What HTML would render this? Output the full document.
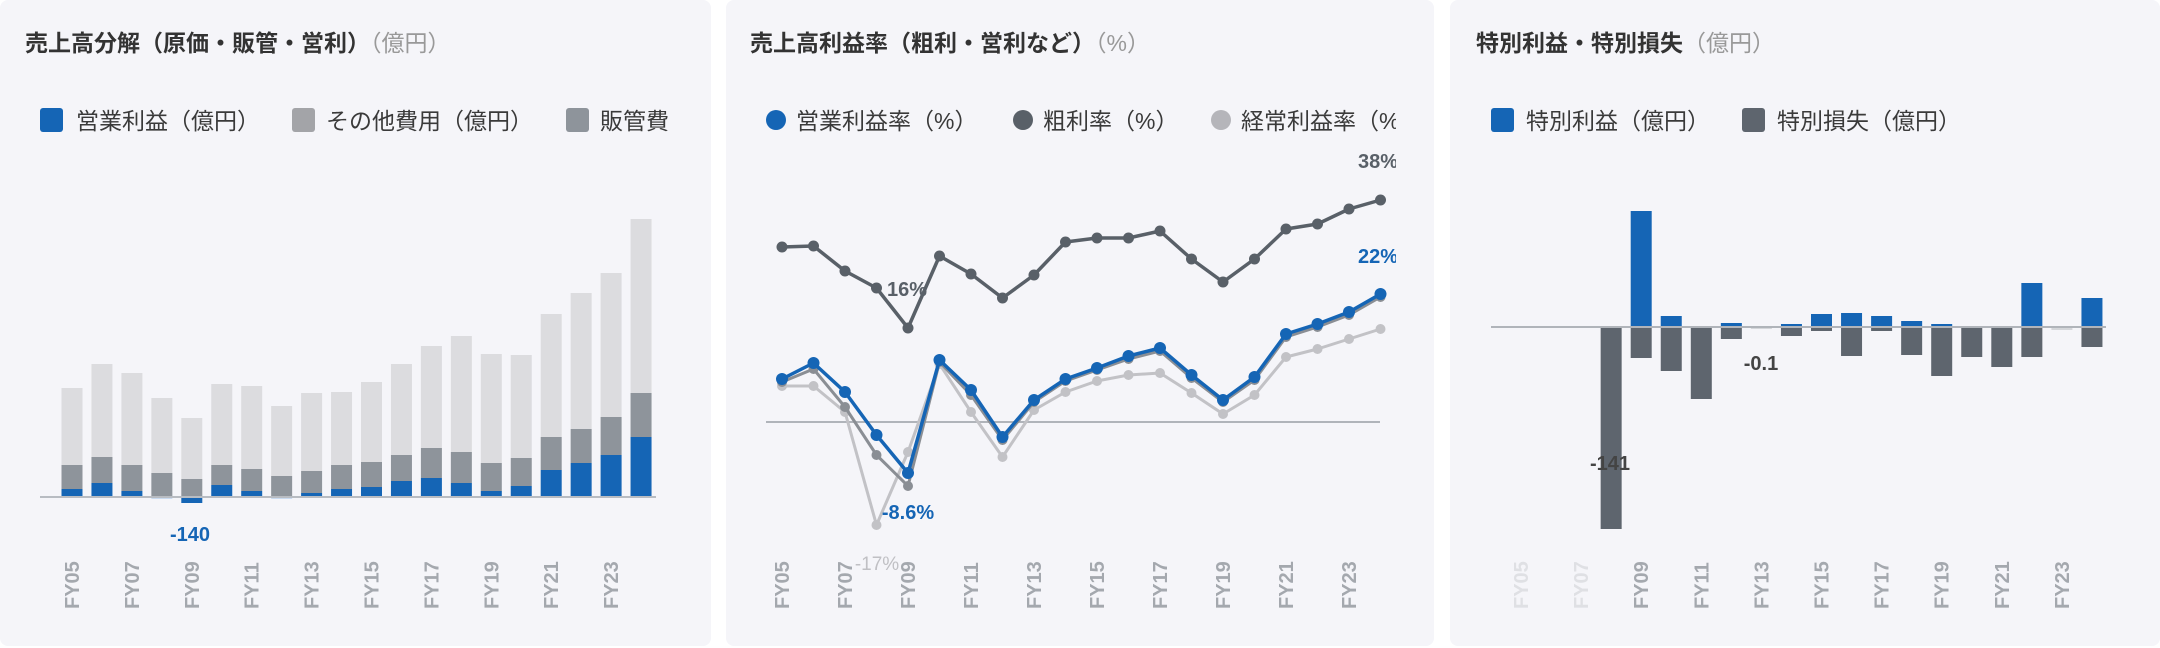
<!DOCTYPE html>
<html><head><meta charset="utf-8"><style>
html,body{margin:0;padding:0;background:#fff;}
svg{display:block;font-family:"Liberation Sans","Noto Sans CJK JP",sans-serif;}
</style></head><body>
<svg width="2160" height="648" viewBox="0 0 2160 648" xmlns="http://www.w3.org/2000/svg">
<defs><clipPath id="c2"><rect x="726" y="0" width="670" height="648"/></clipPath></defs>
<rect x="0" y="0" width="711" height="646" rx="8" fill="#f5f5f9"/>
<rect x="726" y="0" width="708" height="646" rx="8" fill="#f5f5f9"/>
<rect x="1450" y="0" width="710" height="646" rx="8" fill="#f5f5f9"/>

<!-- Panel 1 -->
<text x="25" y="51" font-size="23" font-weight="bold" fill="#333">売上高分解（原価・販管・営利）<tspan font-weight="normal" fill="#999">（億円）</tspan></text>
<g font-size="23" fill="#3a3a3a">
<rect x="40" y="108" width="23" height="24" rx="3" fill="#1565b5"/><text x="76" y="129">営業利益（億円）</text>
<rect x="292" y="108" width="23" height="24" rx="3" fill="#a3a4a8"/><text x="326" y="129">その他費用（億円）</text>
<rect x="566" y="108" width="23" height="24" rx="3" fill="#8e949b"/><text x="600" y="129">販管費</text>
</g>
<g id="b1"></g>
<line x1="40" y1="497" x2="656" y2="497" stroke="#b8bcc2" stroke-width="2"/>
<text x="190" y="541" font-size="20" font-weight="bold" fill="#1565b5" text-anchor="middle">-140</text>

<!-- Panel 2 -->
<text x="750" y="51" font-size="23" font-weight="bold" fill="#333">売上高利益率（粗利・営利など）<tspan font-weight="normal" fill="#999">（%）</tspan></text>
<g clip-path="url(#c2)">
<g font-size="23" fill="#3a3a3a">
<circle cx="776" cy="120" r="10" fill="#1565b5"/><text x="796" y="129">営業利益率（%）</text>
<circle cx="1023" cy="120" r="10" fill="#596068"/><text x="1043" y="129">粗利率（%）</text>
<circle cx="1221" cy="120" r="10" fill="#b5b5ba"/><text x="1241" y="129">経常利益率（%）</text>
</g>
<line x1="766" y1="422" x2="1380" y2="422" stroke="#b0b4ba" stroke-width="2"/>
<g id="l2"></g>
<text x="1378" y="168" font-size="20" font-weight="bold" fill="#596068" text-anchor="middle">38%</text>
<text x="1378" y="263" font-size="20" font-weight="bold" fill="#1565b5" text-anchor="middle">22%</text>
</g>
<text x="907" y="296" font-size="20" font-weight="bold" fill="#596068" text-anchor="middle">16%</text>
<text x="908" y="519" font-size="20" font-weight="bold" fill="#1565b5" text-anchor="middle">-8.6%</text>
<text x="877" y="570" font-size="19" fill="#c0c0c4" text-anchor="middle">-17%</text>

<!-- Panel 3 -->
<text x="1476" y="51" font-size="23" font-weight="bold" fill="#333">特別利益・特別損失<tspan font-weight="normal" fill="#999">（億円）</tspan></text>
<g font-size="23" fill="#3a3a3a">
<rect x="1491" y="108" width="23" height="24" rx="3" fill="#1565b5"/><text x="1526" y="129">特別利益（億円）</text>
<rect x="1742" y="108" width="23" height="24" rx="3" fill="#5e656e"/><text x="1777" y="129">特別損失（億円）</text>
</g>
<g id="b3"></g>
<line x1="1491" y1="327" x2="2106" y2="327" stroke="#b0b4ba" stroke-width="2"/>
<text x="1610" y="470" font-size="20" font-weight="bold" fill="#444" text-anchor="middle">-141</text>
<text x="1761" y="370" font-size="20" font-weight="bold" fill="#444" text-anchor="middle">-0.1</text>

<g id="ticks"></g>
</svg>
<script>
const NS="http://www.w3.org/2000/svg";
function el(p,t,a,txt){const e=document.createElementNS(NS,t);for(const k in a)e.setAttribute(k,a[k]);if(txt)e.textContent=txt;document.getElementById(p).appendChild(e);return e;}
const tot=[388,364,373,398,418,384,386,406,393,392,382,364,346,336,354,355,314,293,273,219];
const sg=[465,457,465,473,479,465,469,476,471,465,462,455,448,452,463,458,437,429,417,393];
const op=[489,483,491,499,503,485,491,499,493,489,487,481,478,483,491,486,470,463,455,437];
for(let i=0;i<20;i++){const x=72+i*29.95-10.5;
el("b1","rect",{x,y:tot[i],width:21,height:sg[i]-tot[i],fill:"#dcdcdf"});
const base=op[i]>497?497:op[i];
el("b1","rect",{x,y:sg[i],width:21,height:base-sg[i],fill:"#8e949b"});
if(op[i]<497)el("b1","rect",{x,y:op[i],width:21,height:497-op[i],fill:"#1565b5"});
else el("b1","rect",{x,y:497,width:21,height:op[i]-497,fill:op[i]>500?"#1565b5":"#c9daf0"});
}
const xs=[];for(let i=0;i<20;i++)xs.push(782+i*31.5);
function line(ys,col,w,r){el("l2","polyline",{points:ys.map((y,i)=>xs[i]+","+y).join(" "),fill:"none",stroke:col,"stroke-width":w,"stroke-linejoin":"round"});ys.forEach((y,i)=>el("l2","circle",{cx:xs[i],cy:y,r,fill:col}));}
line([386,386,412,525,452,364,412,457,410,392,381,375,373,393,414,395,357,349,339,329],"#c2c2c6",3,5);
line([382,369,407,455,486,362,395,440,402,381,370,359,351,378,402,380,337,327,315,297],"#8a8e94",3,5);
line([247,246,271,288,328,256,274,298,275,242,238,238,231,259,282,259,229,224,209,200],"#596068",3.5,5.5);
line([379,363,392,435,473,360,390,437,400,379,368,356,348,375,400,377,334,324,312,294],"#1565b5",3.5,6);
const gain=[null,null,null,null,211,316,null,323,326,324,314,313,316,321,324,null,null,283,326,298];
const loss=[null,null,null,529,358,371,399,339,329,336,331,356,331,355,376,357,367,357,330,347];
for(let i=0;i<20;i++){const x=1521+i*30.05-10.5;
if(gain[i]!==null)el("b3","rect",{x,y:gain[i],width:21,height:327-gain[i],fill:gain[i]>=325?"#c9daf0":"#1565b5"});
if(loss[i]!==null)el("b3","rect",{x,y:327,width:21,height:loss[i]-327,fill:loss[i]<=330?"#d4d6da":"#5e656e"});
}
const labs=["FY05","FY07","FY09","FY11","FY13","FY15","FY17","FY19","FY21","FY23"];
labs.forEach((l,k)=>{
const i=k*2;
const A={"font-size":20,"font-weight":"bold","text-anchor":"start"};
let x=72+i*29.95+7;el("ticks","text",Object.assign({x,y:609,transform:`rotate(-90 ${x} 609)`,fill:"#a4a8ae"},A),l);
x=xs[i]+7;el("ticks","text",Object.assign({x,y:609,transform:`rotate(-90 ${x} 609)`,fill:"#a4a8ae"},A),l);
x=1521+i*30.05+7;el("ticks","text",Object.assign({x,y:609,transform:`rotate(-90 ${x} 609)`,fill:k<2?"#dfe0e4":"#a4a8ae"},A),l);
});
</script>
</body></html>
